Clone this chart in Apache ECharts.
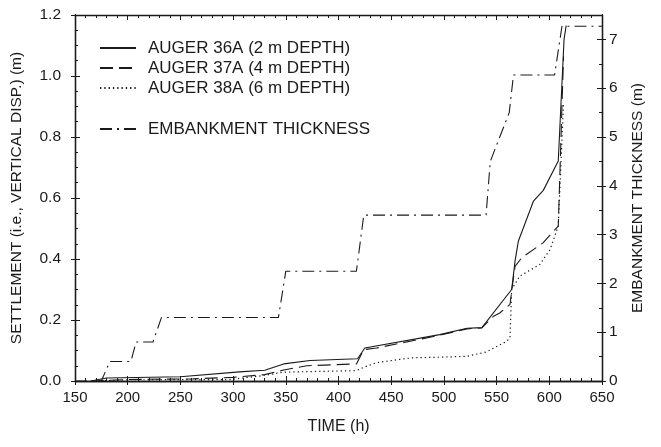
<!DOCTYPE html>
<html>
<head>
<meta charset="utf-8">
<script src="https://cdn.jsdelivr.net/npm/echarts@6/dist/echarts.min.js"></script>
<style>
html,body{margin:0;padding:0;background:#fff;}
#chart{width:661px;height:447px;}
</style>
</head>
<body>
<div id="chart"></div>
<script>
// ---- data (time in h, settlement in m, thickness in m) ----
var names = ['AUGER 36A (2 m DEPTH)', 'AUGER 37A (4 m DEPTH)', 'AUGER 38A (6 m DEPTH)', 'EMBANKMENT THICKNESS'];

var t36 = [165, 180, 250, 306, 330, 348, 373, 418, 425, 496, 522, 536, 564.3, 567.5, 570.6, 585, 594.3, 608.5, 614, 616];
var s36 = [0, 0.010, 0.014, 0.030, 0.035, 0.056, 0.067, 0.073, 0.108, 0.152, 0.173, 0.175, 0.300, 0.393, 0.458, 0.590, 0.625, 0.721, 1.12, 1.165];

var t37 = [165, 200, 262, 300, 330, 348, 370, 417, 424, 436, 496, 522, 536, 547, 553, 562.7, 564.5, 567.5, 573.8, 589.5, 594, 608.5, 613.5];
var s37 = [0, 0.005, 0.007, 0.012, 0.021, 0.036, 0.050, 0.056, 0.103, 0.108, 0.150, 0.171, 0.174, 0.212, 0.223, 0.251, 0.300, 0.376, 0.404, 0.442, 0.453, 0.508, 1.065];

var t38 = [170, 200, 297, 325, 348, 417, 424, 436, 458, 470, 496, 522, 540, 559.5, 562.7, 564.3, 572, 591, 600.7, 608.5, 613.5];
var s38 = [0, 0.004, 0.005, 0.016, 0.029, 0.034, 0.045, 0.060, 0.071, 0.076, 0.078, 0.081, 0.095, 0.130, 0.142, 0.300, 0.344, 0.382, 0.431, 0.508, 0.91];

var tEmb = [150, 175, 183, 203, 208, 224, 232, 343, 350, 417, 424, 540, 544, 562, 566, 605, 612, 650];
var hEmb = [0, 0, 0.40, 0.40, 0.80, 0.80, 1.30, 1.30, 2.25, 2.25, 3.40, 3.40, 4.50, 5.50, 6.27, 6.27, 7.27, 7.27];

var xTicks = [150, 200, 250, 300, 350, 400, 450, 500, 550, 600, 650];
var leftTicks = [0.0, 0.2, 0.4, 0.6, 0.8, 1.0, 1.2];
var rightTicks = [0, 1, 2, 3, 4, 5, 6, 7];

function pairs(xs, ys){ return xs.map(function(x,i){ return [x, ys[i]]; }); }

var FONT = '"Liberation Sans", Arial, Helvetica, sans-serif';
var INK = '#1a1a1a';

var xMin = xTicks[0], xMax = xTicks[xTicks.length-1];
var yMin = leftTicks[0], yMax = leftTicks[leftTicks.length-1];
var rMin = rightTicks[0], rMax = 7.5;

function xAx(pos, opts){
  return Object.assign({
    type:'value', position:pos, min:xMin, max:xMax, interval:50,
    axisLine:{show:true, onZero:false, lineStyle:{color:INK, width:1.3}},
    splitLine:{show:false},
    axisLabel:{show:false}
  }, opts);
}
function yAx(pos, mn, mx, iv, opts){
  return Object.assign({
    type:'value', position:pos, min:mn, max:mx, interval:iv,
    axisLine:{show:true, onZero:false, lineStyle:{color:INK, width:1.3}},
    splitLine:{show:false},
    axisLabel:{show:false}
  }, opts);
}

var legendCommon = {
  orient:'vertical', left:94, itemWidth:36, itemHeight:14, itemGap:2,
  textStyle:{fontFamily:FONT, fontSize:17, lineHeight:18, color:INK, padding:[0,0,0,7]},
  itemStyle:{opacity:0, borderWidth:0},
  selectedMode:false
};

var option = {
  backgroundColor:'#fff',
  animation:false,
  grid:{left:75, right:59, top:15, bottom:66, containLabel:false},
  legend:[
    Object.assign({}, legendCommon, {top:34, data:[names[0], names[1], names[2]]}),
    Object.assign({}, legendCommon, {top:115, data:[names[3]]})
  ],
  xAxis:[
    xAx('bottom', {
      name:'TIME (h)', nameLocation:'middle', nameGap:38,
      nameTextStyle:{fontFamily:FONT, fontSize:16, color:INK},
      axisTick:{show:true, inside:false, length:4, lineStyle:{color:INK}},
      axisLabel:{show:true, fontFamily:FONT, fontSize:15, color:INK, margin:9}
    }),
    xAx('bottom', {
      axisTick:{show:true, inside:true, length:5, lineStyle:{color:INK}},
      minorTick:{show:true, splitNumber:5, length:3, lineStyle:{color:INK}}
    }),
    xAx('top', {
      axisTick:{show:true, inside:true, length:5, lineStyle:{color:INK}},
      minorTick:{show:true, splitNumber:5, length:3, lineStyle:{color:INK}}
    })
  ],
  yAxis:[
    yAx('left', yMin, yMax, 0.2, {
      name:'SETTLEMENT (i.e., VERTICAL DISP.) (m)', nameLocation:'middle', nameGap:50, nameRotate:90,
      nameTextStyle:{fontFamily:FONT, fontSize:15.5, color:INK},
      axisTick:{show:true, inside:false, length:4, lineStyle:{color:INK}},
      axisLabel:{show:true, fontFamily:FONT, fontSize:15.5, color:INK, margin:14,
        formatter:function(v){ return v.toFixed(1); }}
    }),
    yAx('right', rMin, rMax, 1, {
      name:'EMBANKMENT THICKNESS (m)', nameLocation:'middle', nameGap:28, nameRotate:90,
      nameTextStyle:{fontFamily:FONT, fontSize:15.5, color:INK},
      axisTick:{show:true, inside:false, length:4, lineStyle:{color:INK}},
      axisLabel:{show:true, fontFamily:FONT, fontSize:15.5, color:INK, margin:7, showMaxLabel:false,
        formatter:function(v){ return rightTicks.indexOf(v) >= 0 ? String(v) : ''; }}
    }),
    yAx('left', yMin, yMax, 0.2, {
      axisTick:{show:true, inside:true, length:5, lineStyle:{color:INK}},
      minorTick:{show:true, splitNumber:4, length:3, lineStyle:{color:INK}}
    }),
    yAx('right', rMin, rMax, 1, {
      axisTick:{show:true, inside:true, length:5, lineStyle:{color:INK}},
      minorTick:{show:true, splitNumber:2, length:3, lineStyle:{color:INK}}
    })
  ],
  series:[
    {name:names[0], type:'line', xAxisIndex:0, yAxisIndex:0, data:pairs(t36, s36),
     symbol:'none', itemStyle:{color:INK},
     lineStyle:{color:INK, width:1.1, type:'solid'}},
    {name:names[1], type:'line', xAxisIndex:0, yAxisIndex:0, data:pairs(t37, s37),
     symbol:'none', itemStyle:{color:INK},
     lineStyle:{color:INK, width:1.1, type:[13,6]}},
    {name:names[2], type:'line', xAxisIndex:0, yAxisIndex:0, data:pairs(t38, s38),
     symbol:'none', itemStyle:{color:INK},
     lineStyle:{color:INK, width:1.2, type:[1.3,3]}},
    {name:names[3], type:'line', xAxisIndex:0, yAxisIndex:1, data:pairs(tEmb, hEmb),
     symbol:'none', itemStyle:{color:INK},
     lineStyle:{color:INK, width:1.1, type:[12,5,2,5]}}
  ]
};

var chart = echarts.init(document.getElementById('chart'), null, {renderer:'canvas'});
chart.setOption(option);
</script>
</body>
</html>
